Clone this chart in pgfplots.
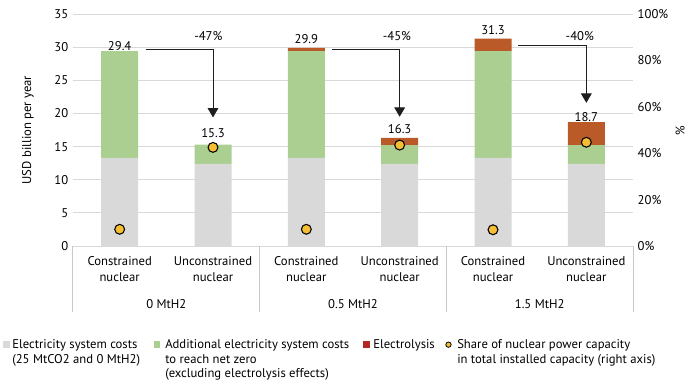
\documentclass[border=0pt]{standalone}
\usepackage{pgfplots}
\pgfplotsset{compat=1.18}
\usepackage{fontspec}
\setmainfont{PT Sans}
\usetikzlibrary{arrows.meta}
\definecolor{cgrey}{RGB}{217,217,217}
\definecolor{cgreen}{RGB}{170,207,145}
\definecolor{cred}{RGB}{185,90,40}
\definecolor{clegred}{RGB}{180,40,35}
\definecolor{cdot}{RGB}{246,190,50}
\definecolor{cgrid}{RGB}{217,217,217}
\definecolor{cbox}{RGB}{200,200,200}
\definecolor{carrow}{RGB}{30,30,30}
\begin{document}
\begin{tikzpicture}[font=\fontsize{9.5}{11.5}\selectfont]
\useasboundingbox (-54.75pt,-104.25pt) rectangle (467.25pt,184.5pt);
\begin{axis}[
  at={(0,0)}, anchor=south west, scale only axis,
  width=420pt, height=174pt,
  ymin=0, ymax=35, xmin=-0.5, xmax=5.5,
  ybar stacked, bar width=27.75pt,
  ytick={0,5,...,35}, yticklabels={0,5,10,15,20,25,30,35},
  xtick={0,1,2,3,4,5},
  xticklabels={{Constrained\\nuclear},{Unconstrained\\nuclear},{Constrained\\nuclear},{Unconstrained\\nuclear},{Constrained\\nuclear},{Unconstrained\\nuclear}},
  xticklabel style={align=center, font=\fontsize{9.5}{12}\selectfont, yshift=-4pt},
  major tick length=0pt,
  axis line style={draw=none},
  ymajorgrids, grid style={cgrid, line width=0.75pt},
  clip=false,
  ylabel={USD billion per year},
  ylabel style={at={(axis description cs:0,0.5)}, anchor=center, yshift=33.75pt},
]
\addplot[fill=cgrey, draw=none] coordinates {(0,13.3) (1,12.4) (2,13.3) (3,12.4) (4,13.3) (5,12.4)};
\addplot[fill=cgreen, draw=none] coordinates {(0,16.1) (1,2.9) (2,16.1) (3,2.8) (4,16.1) (5,2.8)};
\addplot[fill=cred, draw=none] coordinates {(0,0) (1,0) (2,0.5) (3,1.1) (4,1.9) (5,3.5)};
% value labels
\node at (axis cs:0,30.1) {29.4};
\node at (axis cs:1,17.1) {15.3};
\node at (axis cs:2,31.2) {29.9};
\node at (axis cs:3,17.7) {16.3};
\node at (axis cs:4,32.6) {31.3};
\node at (axis cs:5,19.5) {18.7};
% arrows
\draw[carrow, line width=0.75pt, -{Triangle[width=8pt,length=7pt]}] (axis cs:0.28,29.6) -| (axis cs:1,19.4);
\draw[carrow, line width=0.75pt, -{Triangle[width=8pt,length=7pt]}] (axis cs:2.275,29.7) -| (axis cs:3,19.5);
\draw[carrow, line width=0.75pt, -{Triangle[width=8pt,length=7pt]}] (axis cs:4.27,30.3) -| (axis cs:5,21.6);
\node at (axis cs:0.95,31.6) {-47\%};
\node at (axis cs:2.97,31.7) {-45\%};
\node at (axis cs:4.93,31.7) {-40\%};
% category box
\draw[cbox, line width=0.75pt] (axis cs:-0.5,0) -- ++(0pt,-49.5pt);
\draw[cbox, line width=0.75pt] (axis cs:1.5,0) -- ++(0pt,-49.5pt);
\draw[cbox, line width=0.75pt] (axis cs:3.5,0) -- ++(0pt,-49.5pt);
\draw[cbox, line width=0.75pt] (axis cs:5.5,0) -- ++(0pt,-49.5pt);
\node at (axis cs:0.5,0) [yshift=-43.5pt] {0 MtH2};
\node at (axis cs:2.5,0) [yshift=-43.5pt] {0.5 MtH2};
\node at (axis cs:4.5,0) [yshift=-43.5pt] {1.5 MtH2};
\end{axis}
\begin{axis}[
  at={(0,0)}, anchor=south west, scale only axis,
  width=420pt, height=174pt,
  xmin=-0.5, xmax=5.5, ymin=0, ymax=100,
  axis y line*=right, xtick=\empty,
  ytick={0,20,...,100}, yticklabels={0\%,20\%,40\%,60\%,80\%,100\%},
  yticklabel style={anchor=west},
  major tick length=0pt,
  axis line style={draw=none},
  clip=false,
  ylabel={\%},
  ylabel style={rotate=180, at={(axis description cs:1,0.5)}, anchor=center, yshift=35.25pt},
]
\addplot[only marks, mark=*, mark size=3.7pt, mark options={fill=cdot, draw=black, line width=0.8pt}]
  coordinates {(0,7.2) (1,42.5) (2,7.2) (3,43.5) (4,7.0) (5,44.7)};
\end{axis}
% legend
\begin{scope}[every node/.style={inner sep=0pt, anchor=north west, align=left, font=\fontsize{9.5}{11}\selectfont}]
\fill[cgrey] (-52.5pt,-71.5pt) rectangle (-47.5pt,-76.5pt);
\node at (-45.75pt,-70pt) {Electricity system costs\\(25 MtCO2 and 0 MtH2)};
\fill[cgreen] (60.5pt,-71.5pt) rectangle (65.5pt,-76.5pt);
\node at (69pt,-70pt) {Additional electricity system costs\\to reach net zero\\(excluding electrolysis effects)};
\fill[clegred] (217.5pt,-71.5pt) rectangle (222.5pt,-76.5pt);
\node at (225pt,-70pt) {Electrolysis};
\filldraw[fill=cdot, draw=black, line width=0.6pt] (281.6pt,-74pt) circle (2pt);
\node at (288pt,-70pt) {Share of nuclear power capacity\\in total installed capacity (right axis)};
\end{scope}
\end{tikzpicture}
\end{document}
